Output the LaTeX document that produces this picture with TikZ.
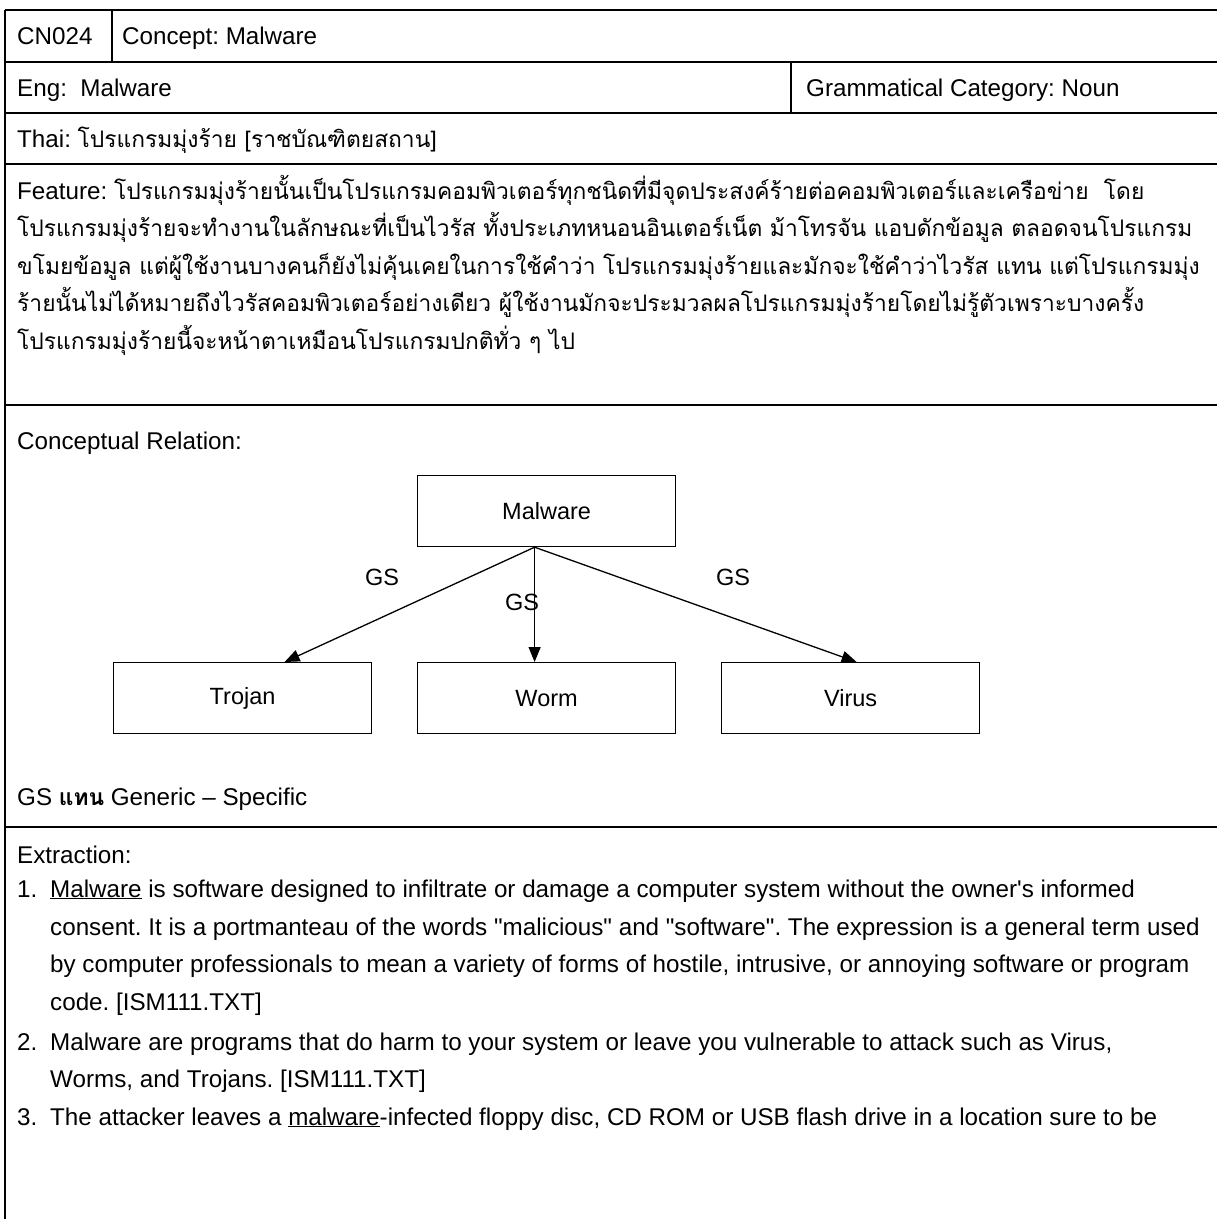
\documentclass[tikz,border=0pt]{standalone}
\usepackage{fontspec}
\setmainfont{Liberation Sans}
% same face without TeX quote ligatures, for straight quotes
\newfontfamily\plainface{Liberation Sans}
\newfontfamily\thai[Script=Thai]{Loma}
\newcommand{\thaitext}{\thai\fontsize{22.8}{27}\selectfont}
\newcommand{\dq}{{\plainface"}}
\newcommand{\sq}{{\plainface'}}
\usetikzlibrary{arrows.meta,calc}
\frenchspacing

\begin{document}
\begin{tikzpicture}[x=1pt,y=-1pt,
  body/.style={font=\fontsize{24.2}{29}\selectfont},
  txt/.style={body,anchor=base west,inner sep=0pt},
  grid/.style={line width=2pt,black},
  concept/.style={font=\fontsize{23.5}{28}\selectfont,draw,line width=1.2pt,minimum width=258pt,minimum height=71pt,inner sep=0pt,anchor=north west},
  rel/.style={-{Triangle[length=15pt,width=12pt]},line width=1.3pt},
  lbl/.style={font=\fontsize{23.5}{28}\selectfont,inner sep=0pt}]

\useasboundingbox (0,0) rectangle (1217,1219);

% table rules
\draw[grid] (5,10) -- (1220,10);
\draw[grid] (5,10) -- (5,1222);
\draw[grid] (5,61.5) -- (1220,61.5);
\draw[grid] (5,113) -- (1220,113);
\draw[grid] (5,164) -- (1220,164);
\draw[grid] (5,405) -- (1220,405);
\draw[grid] (5,827) -- (1220,827);
\draw[grid] (112,10) -- (112,61.5);
\draw[grid] (791,61.5) -- (791,113);

% header rows
\node[txt] (id) at (17,44) {CN024};
\node[txt] (concepthead) at (122,44) {Concept: Malware};
\node[txt] (eng) at (17,96) {Eng:\ \ Malware};
\node[txt] (gram) at (806,96) {Grammatical Category: Noun};
\node[txt] (thaihead) at (17,147) {Thai: {\thaitext โปรแกรมมุ่งร้าย [ราชบัณฑิตยสถาน]}};

% feature paragraph
\node[txt] (f1) at (17,199) {Feature: {\thaitext โปรแกรมมุ่งร้ายนั้นเป็นโปรแกรมคอมพิวเตอร์ทุกชนิดที่มีจุดประสงค์ร้ายต่อคอมพิวเตอร์และเครือข่าย\ \ โดย}};
\node[txt] (f2) at (17,236.5) {\thaitext โปรแกรมมุ่งร้ายจะทำงานในลักษณะที่เป็นไวรัส ทั้งประเภทหนอนอินเตอร์เน็ต ม้าโทรจัน แอบดักข้อมูล ตลอดจนโปรแกรม};
\node[txt] (f3) at (17,274) {\thaitext ขโมยข้อมูล แต่ผู้ใช้งานบางคนก็ยังไม่คุ้นเคยในการใช้คำว่า โปรแกรมมุ่งร้ายและมักจะใช้คำว่าไวรัส แทน แต่โปรแกรมมุ่ง};
\node[txt] (f4) at (17,311.5) {\thaitext ร้ายนั้นไม่ได้หมายถึงไวรัสคอมพิวเตอร์อย่างเดียว ผู้ใช้งานมักจะประมวลผลโปรแกรมมุ่งร้ายโดยไม่รู้ตัวเพราะบางครั้ง};
\node[txt] (f5) at (17,349) {\thaitext โปรแกรมมุ่งร้ายนี้จะหน้าตาเหมือนโปรแกรมปกติทั่ว ๆ ไป};

% conceptual relation
\node[txt] (crhead) at (17,449) {Conceptual Relation:};
\node[concept] (mal) at (417,475) {Malware};
\node[concept] (troj) at (113,662) {Trojan};
\node[concept] (worm) at (417,662) {Worm};
\node[concept] (vir) at (721,662) {Virus};
\draw[rel] ([xshift=-12pt]mal.south) -- ([xshift=42pt]troj.north);
\draw[rel] ([xshift=-12pt]mal.south) -- ([xshift=-12pt]worm.north);
\draw[rel] ([xshift=-12pt]mal.south) -- ([xshift=6pt]vir.north);
\node[lbl] (gs1) at (382,577) {GS};
\node[lbl] (gs2) at (522,602) {GS};
\node[lbl] (gs3) at (733,577) {GS};
\node[txt] (legend) at (17,805) {GS {\thaitext\bfseries แทน} Generic -- Specific};

% extraction
\node[txt] (exhead) at (17,863) {Extraction:};
\node[txt] (n1) at (17,897) {1.};
\node[txt] (e1) at (50,897) {\underline{Malware} is software designed to infiltrate or damage a computer system without the owner\sq s informed};
\node[txt] (e2) at (50,935) {consent. It is a portmanteau of the words \dq malicious\dq{} and \dq software\dq. The expression is a general term used};
\node[txt] (e3) at (50,972) {by computer professionals to mean a variety of forms of hostile, intrusive, or annoying software or program};
\node[txt] (e4) at (50,1010) {code. [ISM111.TXT]};
\node[txt] (n2) at (17,1050) {2.};
\node[txt] (e5) at (50,1050) {Malware are programs that do harm to your system or leave you vulnerable to attack such as Virus,};
\node[txt] (e6) at (50,1087) {Worms, and Trojans. [ISM111.TXT]};
\node[txt] (n3) at (17,1125) {3.};
\node[txt] (e7) at (50,1125) {The attacker leaves a \underline{malware}-infected floppy disc, CD ROM or USB flash drive in a location sure to be};
\end{tikzpicture}
\end{document}
